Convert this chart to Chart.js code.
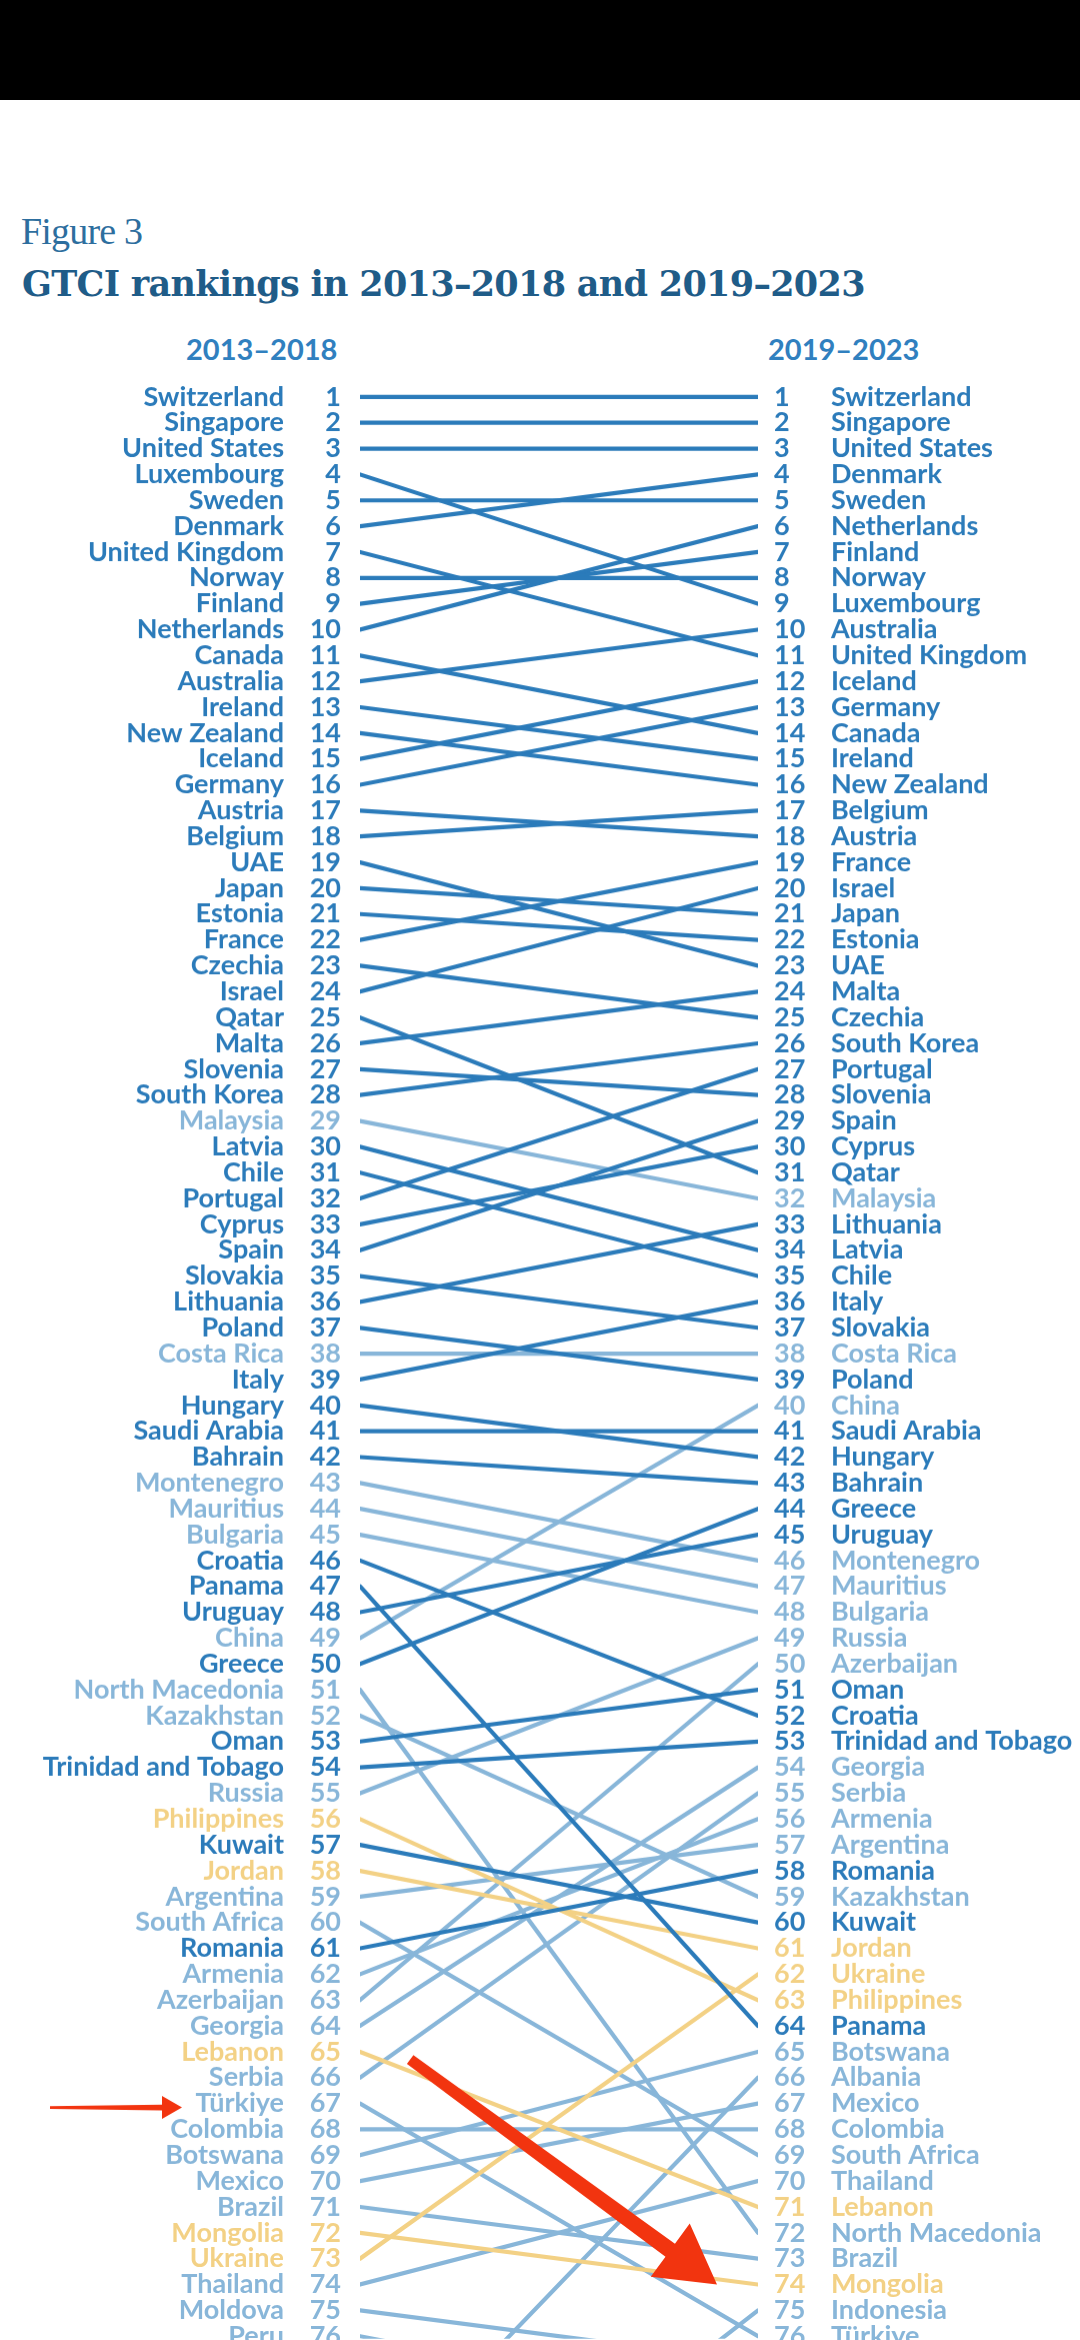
<!DOCTYPE html>
<html>
<head>
<meta charset="utf-8">
<script src="https://cdn.jsdelivr.net/npm/chart.js@4.4.1/dist/chart.umd.min.js"></script>
<style>
  html, body { margin: 0; padding: 0; width: 1080px; height: 2340px; overflow: hidden; background: #fff; }
  #topbar { position: absolute; left: 0; top: 0; width: 1080px; height: 100px; background: #000; }
  #figno { position: absolute; left: 21px; top: 212px; font: 38px "Liberation Serif", serif; letter-spacing: -0.8px; color: #2d6e9e; line-height: 1; }
  #title { position: absolute; left: 22px; top: 266px; font-family: "DejaVu Serif", serif; font-weight: bold; font-size: 35px; letter-spacing: -0.7px; color: #1f5c88; line-height: 1; white-space: nowrap; }
  .period { position: absolute; top: 334px; font: bold 29px Lato, sans-serif; color: #3080bf; line-height: 1; }
  #wrap { position: absolute; left: 0; width: 1080px; }
</style>
</head>
<body>
<div id="topbar"></div>
<div id="figno">Figure 3</div>
<div id="title">GTCI rankings in 2013–2018 and 2019–2023</div>
<div class="period" style="left:186px">2013–2018</div>
<div class="period" style="left:768px">2019–2023</div>
<div id="wrap"><canvas id="slope"></canvas></div>

<script>
// rank order, 2013-2018 edition average
var left2013 = [
  "Switzerland", "Singapore", "United States", "Luxembourg", "Sweden", "Denmark",
  "United Kingdom", "Norway", "Finland", "Netherlands", "Canada", "Australia",
  "Ireland", "New Zealand", "Iceland", "Germany", "Austria", "Belgium", "UAE",
  "Japan", "Estonia", "France", "Czechia", "Israel", "Qatar", "Malta", "Slovenia",
  "South Korea", "Malaysia", "Latvia", "Chile", "Portugal", "Cyprus", "Spain",
  "Slovakia", "Lithuania", "Poland", "Costa Rica", "Italy", "Hungary",
  "Saudi Arabia", "Bahrain", "Montenegro", "Mauritius", "Bulgaria", "Croatia",
  "Panama", "Uruguay", "China", "Greece", "North Macedonia", "Kazakhstan", "Oman",
  "Trinidad and Tobago", "Russia", "Philippines", "Kuwait", "Jordan", "Argentina",
  "South Africa", "Romania", "Armenia", "Azerbaijan", "Georgia", "Lebanon",
  "Serbia", "Türkiye", "Colombia", "Botswana", "Mexico", "Brazil", "Mongolia",
  "Ukraine", "Thailand", "Moldova", "Peru"
];

// rank order, 2019-2023 edition average
var right2019 = [
  "Switzerland", "Singapore", "United States", "Denmark", "Sweden", "Netherlands",
  "Finland", "Norway", "Luxembourg", "Australia", "United Kingdom", "Iceland",
  "Germany", "Canada", "Ireland", "New Zealand", "Belgium", "Austria", "France",
  "Israel", "Japan", "Estonia", "UAE", "Malta", "Czechia", "South Korea",
  "Portugal", "Slovenia", "Spain", "Cyprus", "Qatar", "Malaysia", "Lithuania",
  "Latvia", "Chile", "Italy", "Slovakia", "Costa Rica", "Poland", "China",
  "Saudi Arabia", "Hungary", "Bahrain", "Greece", "Uruguay", "Montenegro",
  "Mauritius", "Bulgaria", "Russia", "Azerbaijan", "Oman", "Croatia",
  "Trinidad and Tobago", "Georgia", "Serbia", "Armenia", "Argentina", "Romania",
  "Kazakhstan", "Kuwait", "Jordan", "Ukraine", "Philippines", "Panama",
  "Botswana", "Albania", "Mexico", "Colombia", "South Africa", "Thailand",
  "Lebanon", "North Macedonia", "Brazil", "Mongolia", "Indonesia", "Türkiye"
];

// ranks that fall below the visible part of the figure (estimated from slopes)
var belowLeft = { "Albania": 82, "Indonesia": 87 };
var belowRight = { "Moldova": 77, "Peru": 79 };

var lightGroup = [
  "Malaysia", "Costa Rica", "Montenegro", "Mauritius", "Bulgaria", "China",
  "North Macedonia", "Kazakhstan", "Russia", "Argentina", "South Africa",
  "Armenia", "Azerbaijan", "Georgia", "Serbia", "Türkiye", "Colombia",
  "Botswana", "Mexico", "Brazil", "Thailand", "Moldova", "Peru", "Albania",
  "Indonesia"
];
var yellowGroup = ["Philippines", "Jordan", "Lebanon", "Mongolia", "Ukraine"];

var DARK = "#2b7bba", LIGHT = "#88b6d9", YELLOW = "#f3d185";

function groupColor(name) {
  if (yellowGroup.indexOf(name) >= 0) return YELLOW;
  if (lightGroup.indexOf(name) >= 0) return LIGHT;
  return DARK;
}
function groupOrder(name) {
  if (lightGroup.indexOf(name) >= 0) return 3;
  if (yellowGroup.indexOf(name) >= 0) return 2;
  return 1;
}
function rankLeft(name) {
  var i = left2013.indexOf(name);
  return i >= 0 ? i + 1 : belowLeft[name];
}
function rankRight(name) {
  var i = right2019.indexOf(name);
  return i >= 0 ? i + 1 : belowRight[name];
}

// layout: one rank per row, the picture is cut off below rank 76
var ROW = 25.9;
var FIRST_ROW_Y = 395;
var chartTop = FIRST_ROW_Y - 1.5 * ROW;
var chartH = 2340 - chartTop;
var yMin = -0.5;
var yMax = yMin + chartH / ROW;
var wrap = document.getElementById("wrap");
wrap.style.top = chartTop + "px";
wrap.style.height = chartH + "px";

var names = left2013.concat(Object.keys(belowLeft));

var datasets = names.map(function(name) {
  return {
    label: name,
    data: [{ x: 0, y: rankLeft(name) }, { x: 1, y: rankRight(name) }],
    borderColor: groupColor(name),
    borderWidth: 4.2,
    borderCapStyle: "round",
    pointRadius: 0,
    pointHoverRadius: 0,
    fill: false,
    tension: 0,
    order: groupOrder(name),
    yAxisID: "yNum"
  };
});

function rankAxis(position, weight, list, width, padding, showRank) {
  return {
    type: "linear",
    position: position,
    weight: weight,
    reverse: true,
    min: yMin,
    max: yMax,
    grid: { display: false, drawTicks: false },
    border: { display: false },
    afterBuildTicks: function(scale) {
      scale.ticks = list.map(function(n, i) { return { value: i + 1 }; });
    },
    afterFit: function(scale) {
      scale.width = width;
      scale.paddingTop = 0;
      scale.paddingBottom = 0;
    },
    ticks: {
      autoSkip: false,
      padding: padding,
      font: { family: "Lato", weight: "bold", size: 27, lineHeight: 1 },
      color: function(ctx) { return groupColor(list[ctx.tick.value - 1]); },
      callback: function(value) {
        return showRank ? String(value) : list[value - 1];
      }
    }
  };
}

// red annotation arrows pointing at Türkiye
var arrows = {
  id: "arrows",
  afterDatasetsDraw: function(chart) {
    var c = chart.ctx, xs = chart.scales.x, ys = chart.scales.yNum;
    c.save();
    c.fillStyle = "#f2340f";

    // small arrow beside the left label
    var yt = ys.getPixelForValue(67) + 4;
    c.beginPath();
    c.moveTo(50, yt - 1.4);
    c.lineTo(162, yt - 2.8);
    c.lineTo(162, yt - 11.5);
    c.lineTo(182, yt);
    c.lineTo(162, yt + 11.5);
    c.lineTo(162, yt + 2.8);
    c.lineTo(50, yt + 1.4);
    c.closePath();
    c.fill();

    // big diagonal arrow
    var x0 = xs.getPixelForValue(0.126), y0 = ys.getPixelForValue(65.3);
    var x1 = xs.getPixelForValue(0.897), y1 = ys.getPixelForValue(74.0);
    var dx = x1 - x0, dy = y1 - y0, len = Math.sqrt(dx * dx + dy * dy);
    var ux = dx / len, uy = dy / len, nx = -uy, ny = ux;
    var headL = 58, headW = 33, tailW = 5.5, neckW = 8;
    var bx = x1 - ux * headL, by = y1 - uy * headL;
    c.beginPath();
    c.moveTo(x0 + nx * tailW, y0 + ny * tailW);
    c.lineTo(bx + nx * neckW, by + ny * neckW);
    c.lineTo(bx + nx * headW, by + ny * headW);
    c.lineTo(x1, y1);
    c.lineTo(bx - nx * headW, by - ny * headW);
    c.lineTo(bx - nx * neckW, by - ny * neckW);
    c.lineTo(x0 - nx * tailW, y0 - ny * tailW);
    c.closePath();
    c.fill();
    c.restore();
  }
};

var chart = new Chart(document.getElementById("slope"), {
  type: "line",
  data: { datasets: datasets },
  options: {
    responsive: true,
    maintainAspectRatio: false,
    animation: false,
    events: [],
    layout: { padding: 0 },
    plugins: { legend: { display: false }, tooltip: { enabled: false } },
    scales: {
      x: { type: "linear", min: 0, max: 1, display: false },
      yName: rankAxis("left", 2, left2013, 290, 6, false),
      yNum: rankAxis("left", 1, left2013, 70, 19, true),
      yNumR: rankAxis("right", 1, right2019, 57, 16, true),
      yNameR: rankAxis("right", 2, right2019, 265, 16, false)
    }
  },
  plugins: [arrows]
});
</script>
</body>
</html>
